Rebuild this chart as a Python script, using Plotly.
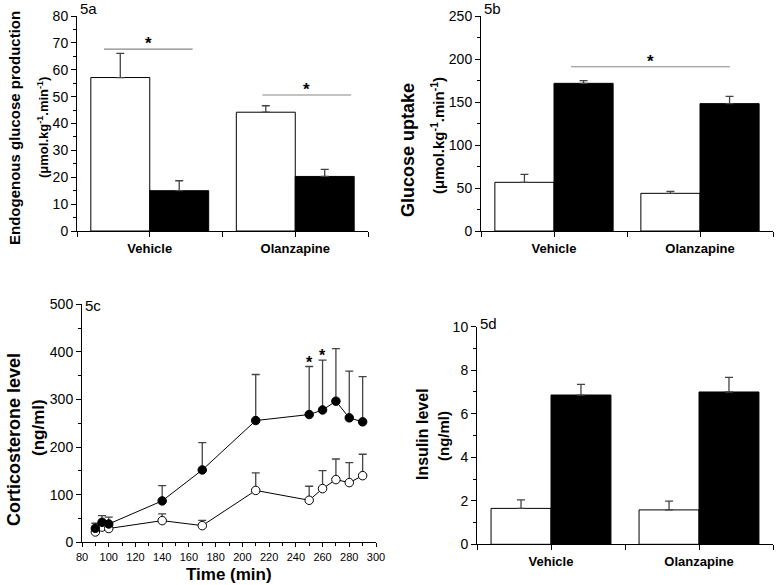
import plotly.graph_objects as go

W, H = 777, 585

groups = ["Vehicle", "Olanzapine"]
group_pos = [0, 1]

# 5a Endogenous glucose production
egp_white = [57.1, 44.2]
egp_white_sem = [9.0, 2.4]
egp_black = [15.0, 20.3]
egp_black_sem = [3.7, 2.6]

# 5b Glucose uptake
gu_white = [56.6, 43.8]
gu_white_sem = [9.3, 2.3]
gu_black = [171.7, 148.1]
gu_black_sem = [3.1, 8.5]

# 5c Corticosterone time course
time_min = [90, 95, 100, 140, 170, 210, 250, 260, 270, 280, 290]
cort_black = [29.4, 42.0, 38.5, 87.0, 152.0, 255.8, 268.4, 278.0, 296.4, 261.4, 253.0]
cort_black_sem = [10.6, 14.0, 14.5, 32.0, 57.5, 96.7, 100.9, 104.6, 110.6, 98.1, 95.0]
cort_white = [21.7, 32.0, 29.0, 45.5, 35.0, 109.0, 88.3, 112.8, 131.7, 125.4, 140.0]
cort_white_sem = [4.0, 5.0, 5.0, 14.1, 11.0, 36.8, 29.4, 37.9, 43.3, 42.1, 45.0]

# 5d Insulin
ins_white = [1.65, 1.58]
ins_white_sem = [0.39, 0.40]
ins_black = [6.86, 7.00]
ins_black_sem = [0.49, 0.67]

# significance markers (x in category units, y in data units)
sig_a = [(-0.315, 0.295, 67.7), (0.774, 1.384, 50.6)]
sig_b = [(0.116, 1.205, 191.0)]
sig_c_times = [250, 260]

ERR = "#444444"
FONT = "Liberation Sans, Arial, sans-serif"


def dom_x(a, b):
    return [a / W, b / W]


def dom_y(top, bottom):
    return [1 - bottom / H, 1 - top / H]


def err(sem):
    return dict(type="data", array=sem, arrayminus=[0] * len(sem), symmetric=False,
                color=ERR, thickness=1.3, width=4)


fig = go.Figure()

panels = [
    ("x", "y", egp_white, egp_white_sem, egp_black, egp_black_sem),
    ("x2", "y2", gu_white, gu_white_sem, gu_black, gu_black_sem),
    ("x4", "y4", ins_white, ins_white_sem, ins_black, ins_black_sem),
]
for xa, ya, wv, ws, bv, bs in panels:
    fig.add_trace(go.Bar(x=group_pos, y=wv, error_y=err(ws), xaxis=xa, yaxis=ya,
                         marker=dict(color="white", line=dict(color="black", width=1)),
                         name="basal", showlegend=False))
    fig.add_trace(go.Bar(x=group_pos, y=bv, error_y=err(bs), xaxis=xa, yaxis=ya,
                         marker=dict(color="black", line=dict(color="black", width=1)),
                         name="clamp", showlegend=False))

fig.add_trace(go.Scatter(x=time_min, y=cort_white, mode="lines+markers", xaxis="x3", yaxis="y3",
                         line=dict(color="black", width=1),
                         marker=dict(symbol="circle", size=8.5, color="white",
                                     line=dict(color="black", width=1)),
                         error_y=err(cort_white_sem), showlegend=False, name="vehicle"))
fig.add_trace(go.Scatter(x=time_min, y=cort_black, mode="lines+markers", xaxis="x3", yaxis="y3",
                         line=dict(color="black", width=1),
                         marker=dict(symbol="circle", size=8.5, color="black",
                                     line=dict(color="black", width=1)),
                         error_y=err(cort_black_sem), showlegend=False, name="olanzapine"))

axis_common = dict(showline=True, linecolor="black", linewidth=1, ticks="outside",
                   tickcolor="black", ticklen=5, tickwidth=1, showgrid=False, zeroline=False,
                   automargin=False,
                   tickfont=dict(family=FONT, size=14, color="black"))

bar_x = dict(axis_common, range=[-0.5, 1.5], tickvals=group_pos,
             ticktext=[f"<b>{g}</b>" for g in groups],
             minor=dict(ticks="outside", ticklen=5, tickvals=[-0.5, 0.5, 1.5], tickcolor="black"),
             tickfont=dict(family=FONT, size=13, color="black"))

fig.update_layout(
    template="none",
    width=W, height=H, margin=dict(l=0, r=0, t=0, b=0, pad=0, autoexpand=False),
    paper_bgcolor="white", plot_bgcolor="white",
    barmode="group", bargap=0.19, bargroupgap=0, showlegend=False,
    font=dict(family=FONT, color="black"),
    xaxis=dict(bar_x, domain=dom_x(77, 368), anchor="y"),
    yaxis=dict(axis_common, domain=dom_y(16, 231), anchor="x", range=[0, 80], dtick=10,
               minor=dict(ticks="outside", ticklen=3, dtick=5, tickcolor="black")),
    xaxis2=dict(bar_x, domain=dom_x(481, 773), anchor="y2"),
    yaxis2=dict(axis_common, domain=dom_y(16, 231), anchor="x2", range=[0, 250], dtick=50,
                minor=dict(ticks="outside", ticklen=3, dtick=25, tickcolor="black")),
    xaxis3=dict(axis_common, domain=dom_x(82, 376), anchor="y3", range=[80, 300], dtick=20,
                ticklen=4,
                tickfont=dict(family=FONT, size=11, color="black"),
                minor=dict(ticks="outside", ticklen=3, dtick=10, tickcolor="black")),
    yaxis3=dict(axis_common, domain=dom_y(304.3, 542.3), anchor="x3", range=[0, 500], dtick=100,
                minor=dict(ticks="outside", ticklen=3, dtick=50, tickcolor="black")),
    xaxis4=dict(bar_x, domain=dom_x(477, 773), anchor="y4"),
    yaxis4=dict(axis_common, domain=dom_y(326.7, 544.3), anchor="x4", range=[0, 10], dtick=2,
                minor=dict(ticks="outside", ticklen=3, dtick=1, tickcolor="black")),
)

shapes = []
ann = []
for x0, x1, yv in sig_a:
    shapes.append(dict(type="line", xref="x", yref="y", x0=x0, x1=x1, y0=yv, y1=yv,
                       line=dict(color="#888888", width=1.2)))
    ann.append(dict(x=(x0 + x1) / 2, y=yv, xref="x", yref="y", text="<b>*</b>", showarrow=False,
                    yanchor="bottom", font=dict(size=17, family=FONT), yshift=-6))
for x0, x1, yv in sig_b:
    shapes.append(dict(type="line", xref="x2", yref="y2", x0=x0, x1=x1, y0=yv, y1=yv,
                       line=dict(color="#888888", width=1.2)))
    ann.append(dict(x=(x0 + x1) / 2, y=yv, xref="x2", yref="y2", text="<b>*</b>", showarrow=False,
                    yanchor="bottom", font=dict(size=17, family=FONT), yshift=-6))
for t in sig_c_times:
    i = time_min.index(t)
    ann.append(dict(x=t, y=cort_black[i] + cort_black_sem[i], xref="x3", yref="y3",
                    text="<b>*</b>", showarrow=False, yanchor="bottom",
                    font=dict(size=16, family=FONT), yshift=-6))


def px(x, y):
    return x / W, 1 - y / H


def text_at(x, y, text, size, angle=0, bold=True):
    xx, yy = px(x, y)
    ann.append(dict(x=xx, y=yy, xref="paper", yref="paper", text=f"<b>{text}</b>" if bold else text,
                    showarrow=False, textangle=angle, xanchor="center", yanchor="middle",
                    font=dict(size=size, family=FONT, color="black")))


unit = "(μmol.kg<sup>-1</sup>.min<sup>-1</sup>)"
text_at(14, 128, "Endogenous glucose production", 15, -90)
text_at(43, 128, unit, 13, -90)
text_at(408, 150, "Glucose uptake", 18, -90)
text_at(437, 135, unit, 15, -90)
text_at(14, 440, "Corticosterone level", 18, -90)
text_at(38, 428, "(ng/ml)", 17, -90)
text_at(229, 574, "Time (min)", 17)
text_at(422, 434, "Insulin level", 16, -90)
text_at(443, 436, "(ng/ml)", 15, -90)

for lx, ly, lab in [(78, 9, "5a"), (482, 9, "5b"), (83, 305, "5c"), (478, 323, "5d")]:
    xx, yy = px(lx, ly)
    ann.append(dict(x=xx, y=yy, xref="paper", yref="paper", text=lab, showarrow=False,
                    xanchor="left", yanchor="middle", font=dict(size=15, family=FONT, color="black")))

fig.update_layout(shapes=shapes, annotations=ann)
fig.write_html("out.html", config={"displayModeBar": False},
               post_script="document.body.style.margin='0';document.body.style.overflow='hidden';")
